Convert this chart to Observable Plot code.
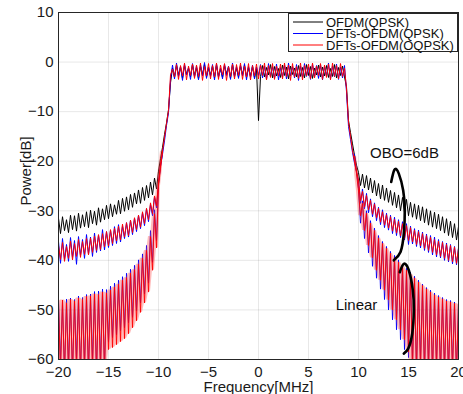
<!DOCTYPE html>
<html>
<head>
<meta charset="utf-8">
<script src="https://cdn.jsdelivr.net/npm/d3@7"></script>
<script src="https://cdn.jsdelivr.net/npm/@observablehq/plot@0.6"></script>
<style>
  html, body { margin: 0; padding: 0; background: #fff; }
  #wrap { position: relative; width: 463px; height: 394px; overflow: hidden; font-family: "Liberation Sans", Arial, sans-serif; }
  #legend { position: absolute; left: 288px; top: 13px; width: 168px; height: 37px; border: 1px solid #262626; background: #fff; overflow: visible; }
</style>
</head>
<body>
<div id="wrap"></div>
<script>
// ---- categories / ticks ----
const seriesNames = ["OFDM(QPSK)", "DFTs-OFDM(QPSK)", "DFTs-OFDM(OQPSK)"];
const seriesColors = ["#000000", "#0000ff", "#ff0000"];
const xTicks = [-20, -15, -10, -5, 0, 5, 10, 15, 20];
const yTicks = [-60, -50, -40, -30, -20, -10, 0, 10];

// sampling grid (MHz) for the spectra
const freqFull = d3.range(201).map(i => Math.round((-20 + 0.2 * i) * 10) / 10);
const freqLinLeft = d3.range(53).map(i => Math.round((-20 + 0.2 * i) * 10) / 10);
const freqLinRight = d3.range(53).map(i => Math.round((9.6 + 0.2 * i) * 10) / 10);

// ---- OBO = 6 dB spectra (dB), -20..20 MHz ----
const blackOBO = [
-31.5,-34.6,-31.2,-34.0,-31.8, -34.4,-30.9,-33.8,-31.0,-34.1,
-30.5,-33.5,-30.8,-33.2,-30.2, -33.4,-29.9,-32.6,-30.1,-32.9,
-29.4,-32.3,-29.6,-31.8,-28.9, -31.6,-28.6,-31.2,-28.8,-30.7,
-27.9,-30.6,-27.5,-30.1,-27.2, -29.8,-26.7,-29.3,-26.4,-28.6,
-25.8,-28.5,-25.3,-27.9,-24.9, -27.4,-24.2,-26.8,-23.4,-25.6,
-22.0,
-19.5,-17.2,-14.6,-12.3,-9.6,
-4.2,
-1.2,-3.1,-0.6,-2.7,-1.0,-3.3,-0.7,-2.5,-1.3,-3.0,
-0.5,-2.8,-1.1,-3.4,-0.9,-2.6,-0.4,-3.0,-1.2,-2.7,
-0.8,-3.2,-0.6,-2.9,-1.4,-3.1,-0.7,-2.4,-1.0,-3.3,
-0.5,-2.8,-1.2,-3.0,-0.8,-2.6,-0.6,-3.1,-1.1,-2.9,
-0.9,-3.2,-1.3,
-11.8,
-2.9,-0.7,-3.0,-1.1,-2.6,-0.5,-3.2,-0.9,-2.8,-1.3,
-3.1,-0.6,-2.7,-1.0,-3.4,-0.8,-2.5,-1.2,-3.0,-0.7,
-2.9,-1.1,-3.2,-0.5,-2.7,-0.9,-3.3,-1.2,-2.6,-0.6,
-3.0,-1.0,-2.8,-0.7,-3.1,-1.3,-2.9,-0.5,-3.2,-1.1,
-2.7,-0.8,-3.0,
-5.0,
-11.8,-14.2,-16.5,-18.8,-20.8,
-22.3,
-24.9,-22.6,-25.4,-22.9,-25.8, -23.4,-26.4,-23.9,-27.0,-24.5,
-27.6,-24.8,-27.9,-25.4,-28.3, -25.9,-28.9,-26.3,-29.4,-26.8,
-30.0,-27.3,-30.4,-27.7,-31.0, -28.3,-31.3,-28.6,-31.7,-28.9,
-32.0,-29.2,-32.4,-29.6,-32.9, -30.0,-33.3,-30.3,-33.6,-30.7,
-34.0,-31.2,-34.5,-31.6,-35.0, -32.1,-35.4,-32.6,-35.9,-33.2
];

const blueOBO = [
-36.2,-40.6,-35.6,-39.8,-36.8, -40.2,-35.4,-39.4,-36.0,-40.8,
-35.2,-39.0,-35.8,-39.6,-34.8, -38.8,-35.3,-39.2,-34.5,-38.4,
-34.9,-38.1,-33.8,-37.9,-34.2, -37.4,-33.9,-37.0,-33.2,-36.6,
-32.8,-36.3,-33.1,-35.6,-32.4, -35.3,-31.9,-34.8,-31.5,-34.2,
-30.9,-33.6,-30.4,-33.0,-29.6, -32.2,-28.7,-31.0,-27.2,-29.4,
-24.5,
-21.0,-18.6,-15.9,-12.8,-10.2,
-3.6,
-0.6,-3.4,-0.2,-2.9,-0.9,-3.7,-0.4,-2.6,-1.1,-3.5,
-0.3,-3.0,-0.8,-3.6,-0.5,-2.8,-0.1,-3.3,-1.0,-2.9,
-0.5,-3.6,-0.3,-3.1,-1.2,-3.4,-0.4,-2.7,-0.8,-3.5,
-0.2,-3.0,-0.9,-3.3,-0.6,-2.8,-0.3,-3.6,-0.9,-3.1,
-0.6,-3.4,-1.0,
-2.7,
-0.5,-3.2,-0.8,-3.5,-0.3,-2.9,-0.9,-3.3,-0.4,-3.6,
-1.1,-3.0,-0.6,-3.4,-0.2,-2.8,-0.9,-3.2,-0.5,-3.7,
-0.8,-3.1,-0.3,-2.9,-1.0,-3.5,-0.4,-3.0,-0.7,-3.3,
-0.5,-3.6,-0.9,-2.8,-0.2,-3.4,-0.8,-3.0,-0.4,-3.5,
-1.0,-3.2,-0.7,
-6.0,
-13.0,-15.6,-18.2,-20.4,-22.2,
-24.0,
-28.5,-25.6,-29.6,-26.5,-30.4, -27.6,-31.2,-28.4,-32.0,-29.3,
-32.8,-29.8,-33.4,-30.5,-33.9, -30.9,-34.6,-31.3,-35.0,-31.8,
-35.4,-32.2,-35.9,-32.6,-36.8, -33.1,-36.7,-33.6,-37.2,-33.9,
-37.5,-34.3,-38.0,-34.7,-38.4, -35.0,-38.9,-35.3,-39.3,-35.8,
-39.5,-36.2,-40.0,-36.5,-40.3, -36.8,-40.7,-37.2,-40.9,-37.5
];

const redOBO = [
-37.0,-39.8,-36.4,-40.2,-37.2, -39.6,-36.1,-39.9,-36.6,-39.2,
-35.8,-39.4,-36.2,-38.8,-35.6, -38.9,-35.5,-38.4,-35.1,-38.0,
-34.8,-37.8,-34.6,-37.3,-34.2, -37.1,-33.8,-36.6,-33.5,-36.1,
-33.1,-35.9,-32.7,-35.3,-32.4, -35.0,-31.9,-34.4,-31.4,-33.8,
-30.9,-33.3,-30.2,-32.6,-29.5, -31.8,-28.4,-30.6,-27.0,-29.0,
-24.2,
-20.6,-18.0,-15.2,-12.4,-9.8,
-2.6,
-1.4,-3.0,-0.5,-3.5,-0.7,-2.8,-0.2,-3.6,-0.8,-2.7,
-0.4,-3.3,-0.6,-2.9,-0.2,-3.7,-0.9,-2.8,-0.3,-3.4,
-0.7,-3.0,-0.2,-3.5,-0.6,-2.6,-0.3,-3.7,-0.9,-2.9,
-0.4,-3.4,-0.5,-2.7,-0.2,-3.5,-0.8,-3.0,-0.3,-3.6,
-0.7,-2.8,-0.4,
-3.4,
-0.6,-2.7,-0.2,-3.6,-0.7,-3.1,-0.3,-3.5,-0.8,-2.8,
-0.4,-3.4,-0.2,-2.9,-0.6,-3.7,-0.3,-3.0,-0.9,-3.3,
-0.2,-3.6,-0.7,-2.8,-0.4,-3.4,-0.2,-3.2,-0.8,-2.7,
-0.3,-3.5,-0.6,-3.1,-0.4,-3.6,-0.2,-2.9,-0.7,-3.4,
-0.3,-2.9,-1.2,
-5.4,
-12.2,-15.0,-17.8,-20.0,-22.0,
-23.8,
-28.0,-26.1,-29.2,-26.9,-29.8, -27.9,-30.7,-28.6,-31.4,-29.5,
-32.3,-30.2,-32.9,-30.8,-33.5, -31.2,-34.1,-31.7,-34.5,-32.1,
-35.1,-32.6,-35.6,-33.0,-36.0, -33.4,-36.3,-33.9,-36.8,-34.2,
-37.1,-34.6,-37.6,-35.0,-38.0, -35.3,-38.4,-35.8,-38.9,-36.1,
-39.2,-36.4,-39.6,-36.8,-40.0, -37.0,-40.3,-37.3,-40.6,-37.6
];

// ---- linear (no OBO) out-of-band spectra (dB) ----
const blueLinLeft = [
-48.0,-60.5,-48.3,-63.0,-47.8, -61.5,-47.6,-63.0,-47.9,-59.8,
-47.2,-63.0,-47.5,-61.0,-46.9, -63.0,-46.8,-60.2,-46.3,-63.0,
-46.2,-61.0,-45.8,-62.0,-45.9, -56.5,-45.2,-55.6,-44.6,-55.0,
-44.0,-54.2,-43.3,-53.6,-42.6, -52.6,-41.8,-51.5,-41.0,-50.2,
-39.9,-48.6,-38.7,-46.8,-37.0, -44.6,-34.0,-40.4,-29.8,-36.0,
-24.6,-21.0,-18.4
];
const redLinLeft = [
-48.4,-63.0,-48.0,-63.0,-48.6, -63.0,-47.9,-63.0,-48.2,-63.0,
-47.6,-63.0,-47.9,-63.0,-47.3, -63.0,-47.2,-63.0,-46.8,-63.0,
-46.9,-63.0,-46.4,-63.0,-46.6, -58.0,-46.0,-57.6,-45.4,-57.0,
-44.8,-56.4,-44.0,-55.8,-43.5, -54.8,-42.6,-53.6,-41.9,-52.2,
-40.8,-50.5,-39.6,-48.6,-38.0, -46.4,-35.2,-42.0,-30.6,-37.5,
-25.0,-21.5,-18.0
];
const blueLinRight = [
-18.6,-22.0,-25.5,
-32.5,-28.0,-35.6,-30.0,-38.5, -32.0,-41.2,-33.5,-43.6,-35.0,
-45.8,-36.2,-47.9,-37.2,-50.0, -38.2,-52.0,-39.0,-54.0,-39.9,
-56.0,-40.8,-58.0,-41.6,-59.6, -42.4,-61.0,-43.2,-63.0,-44.0,
-60.5,-44.8,-63.0,-45.5,-61.8, -46.0,-63.0,-46.6,-60.8,-47.1,
-63.0,-47.5,-62.0,-47.9,-63.0, -48.1,-61.2,-48.4,-63.0,-48.6
];
const redLinRight = [
-19.0,-22.5,-26.0,
-31.0,-28.5,-34.0,-30.5,-37.0, -32.5,-39.5,-34.0,-42.0,-35.5,
-44.0,-36.6,-46.0,-37.6,-48.0, -38.6,-50.0,-39.5,-52.0,-40.4,
-54.0,-41.2,-56.0,-42.0,-58.5, -42.8,-63.0,-43.6,-63.0,-44.4,
-63.0,-45.1,-63.0,-45.8,-63.0, -46.4,-63.0,-47.0,-63.0,-47.4,
-63.0,-47.8,-63.0,-48.2,-63.0, -48.4,-63.0,-48.7,-63.0,-48.9
];

// ---- annotations (frequency MHz, dB) ----
const annoLabels = ["OBO=6dB", "Linear"];
const annoFreq = [14.6, 9.8];
const annoDb = [-18.3, -49.1];
const bracketOBOf = [13.27, 13.6, 14.03, 14.47, 14.63, 14.53, 14.2, 13.53];
const bracketOBOv = [-24.2, -21.7, -22.5, -25.9, -29.9, -34.6, -38.3, -40.0];
const bracketLinf = [14.13, 14.53, 15.03, 15.43, 15.53, 15.37, 14.97, 14.53];
const bracketLinv = [-42.4, -40.7, -42.0, -46.0, -50.1, -54.8, -57.8, -58.8];

// sanity checks
[[blackOBO,201],[blueOBO,201],[redOBO,201],[blueLinLeft,53],[redLinLeft,53],[blueLinRight,53],[redLinRight,53]]
  .forEach(([a,n],k) => { if (a.length !== n) throw new Error("length mismatch " + k + ": " + a.length); });

const rows = (freqs, vals) => vals.map((v, i) => ({f: freqs[i], v}));
// band swept by the fast ripple (local min/max of neighbouring samples), drawn as a pale fill
const band = (freqs, vals) => vals.map((v, i) => {
  const w = vals.slice(Math.max(0, i - 1), i + 2);
  return {f: freqs[i], lo: d3.min(w), hi: d3.max(w)};
});
const annos = annoLabels.map((t, i) => ({t, f: annoFreq[i], v: annoDb[i]}));

const font = "'Liberation Sans', Arial, Helvetica, sans-serif";

const chart = Plot.plot({
  width: 463,
  height: 394,
  marginLeft: 58,
  marginRight: 5,
  marginTop: 12,
  marginBottom: 35,
  style: {fontFamily: font, fontSize: "15px", color: "#1a1a1a", background: "#fff", overflow: "visible"},
  x: {domain: [-20, 20], ticks: xTicks, grid: true, tickSize: 0, tickPadding: 7, label: null},
  y: {domain: [-60, 10], ticks: yTicks, grid: true, tickSize: 0, tickPadding: 5, label: null},
  marks: [
    Plot.line(rows(freqFull, blackOBO), {x: "f", y: "v", stroke: seriesColors[0], strokeWidth: 1, clip: true}),
    Plot.line(rows(freqFull, blueOBO), {x: "f", y: "v", stroke: seriesColors[1], strokeWidth: 1, clip: true}),
    Plot.line(rows(freqLinLeft, blueLinLeft), {x: "f", y: "v", stroke: seriesColors[1], strokeWidth: 0.9, clip: true}),
    Plot.line(rows(freqLinRight, blueLinRight), {x: "f", y: "v", stroke: seriesColors[1], strokeWidth: 0.9, clip: true}),
    Plot.areaY(band(freqLinLeft, redLinLeft), {x: "f", y1: "lo", y2: "hi", fill: "#ff4040", fillOpacity: 0.35, clip: true}),
    Plot.areaY(band(freqLinRight, redLinRight), {x: "f", y1: "lo", y2: "hi", fill: "#ff4040", fillOpacity: 0.35, clip: true}),
    Plot.line(rows(freqFull, redOBO), {x: "f", y: "v", stroke: seriesColors[2], strokeWidth: 1, clip: true}),
    Plot.line(rows(freqLinLeft, redLinLeft), {x: "f", y: "v", stroke: seriesColors[2], strokeWidth: 0.9, clip: true}),
    Plot.line(rows(freqLinRight, redLinRight), {x: "f", y: "v", stroke: seriesColors[2], strokeWidth: 0.9, clip: true}),
    Plot.line(rows(bracketOBOf, bracketOBOv), {x: "f", y: "v", stroke: "#000", strokeWidth: 2.6, curve: "natural"}),
    Plot.line(rows(bracketLinf, bracketLinv), {x: "f", y: "v", stroke: "#000", strokeWidth: 2.6, curve: "natural"}),
    Plot.text(annos, {x: "f", y: "v", text: "t", fill: "#111", fontSize: 15, textAnchor: "middle", lineAnchor: "middle"}),
    Plot.text(["Frequency[MHz]"], {frameAnchor: "bottom", textAnchor: "middle", lineAnchor: "middle", dy: 28, fontSize: 15, fill: "#1a1a1a"}),
    Plot.text(["Power[dB]"], {frameAnchor: "left", textAnchor: "middle", lineAnchor: "middle", rotate: -90, dx: -32, dy: -15, fontSize: 15, fill: "#1a1a1a"}),
    Plot.frame({stroke: "#262626", strokeWidth: 1})
  ]
});

const wrap = document.getElementById("wrap");
wrap.appendChild(chart);

// legend overlay (top-right, inside the plot frame)
const legend = document.createElement("div");
legend.id = "legend";
const ns = "http://www.w3.org/2000/svg";
const lsvg = document.createElementNS(ns, "svg");
lsvg.setAttribute("width", 168);
lsvg.setAttribute("height", 40);
lsvg.style.position = "absolute";
lsvg.style.left = "0px";
lsvg.style.top = "0px";
lsvg.style.overflow = "visible";
seriesNames.forEach((name, i) => {
  const cy = 8 + i * 11.5;
  const ln = document.createElementNS(ns, "line");
  ln.setAttribute("x1", 4); ln.setAttribute("x2", 34);
  ln.setAttribute("y1", cy); ln.setAttribute("y2", cy);
  ln.setAttribute("stroke", seriesColors[i]);
  ln.setAttribute("stroke-width", 1);
  lsvg.appendChild(ln);
  const tx = document.createElementNS(ns, "text");
  tx.setAttribute("x", 37);
  tx.setAttribute("y", cy + 4.6);
  tx.setAttribute("font-family", font);
  tx.setAttribute("font-size", 13);
  tx.setAttribute("fill", "#111");
  tx.textContent = name;
  lsvg.appendChild(tx);
});
legend.appendChild(lsvg);
wrap.appendChild(legend);
</script>
</body>
</html>
